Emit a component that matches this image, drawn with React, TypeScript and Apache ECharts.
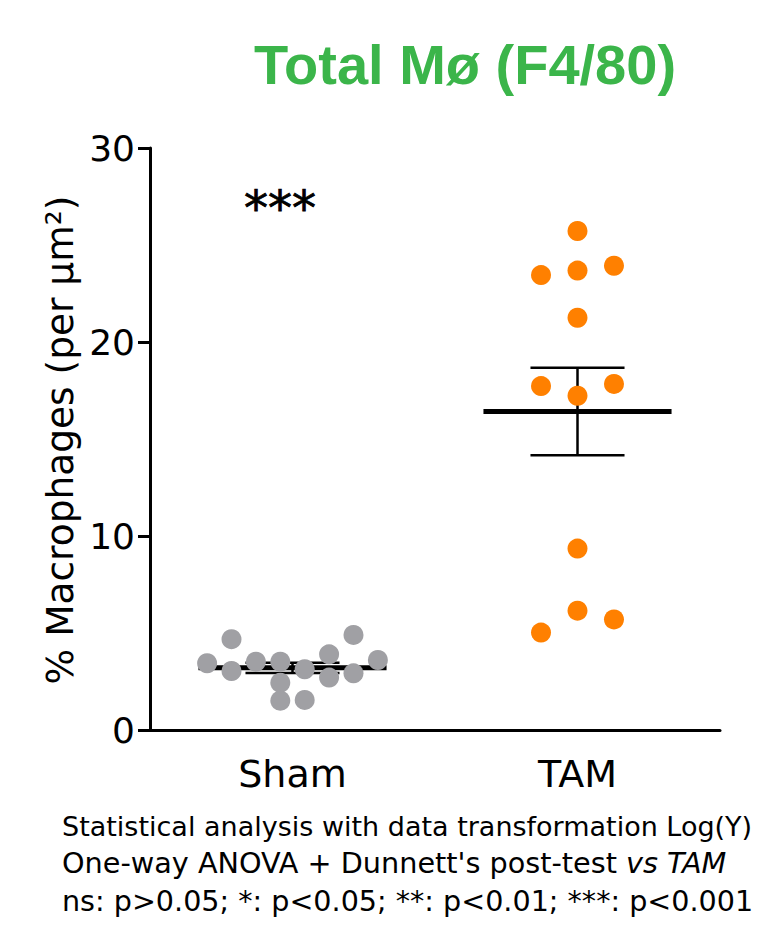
import React, { useEffect, useRef } from "react";
import * as echarts from "echarts";

// ---- data ----
const categories = ["Sham", "TAM"];
const shamValues = [4.68, 4.9, 3.44, 3.04, 3.52, 3.52, 3.13, 3.9, 2.7, 2.92, 3.61, 2.44, 1.51, 1.55];
const shamColumns = [-2.5, 2.5, -3.5, -2.5, -1.5, -0.5, 0.5, 1.5, 1.5, 2.5, 3.5, -0.5, -0.5, 0.5];
const tamValues = [25.72, 23.45, 23.68, 23.93, 21.25, 17.73, 17.84, 17.23, 9.35, 6.15, 5.7, 5.02];
const tamColumns = [0, -1, 0, 1, 0, -1, 1, 0, 0, 0, 1, -1];
const yTicks = [0, 10, 20, 30];
const significance = "***";
const titleText = "Total Mø (F4/80)";
const yTitleMain = "% Macrophages";
const yTitleUnit = "(per µm²)";
const footLines = [
  "Statistical analysis with data transformation Log(Y)",
  "One-way ANOVA + Dunnett's post-test ",
  "ns: p>0.05; *: p<0.05; **: p<0.01; ***: p<0.001",
];
const footItalic = "vs TAM";

// ---- styles ----
const SHAM_STEP = 0.0856;
const TAM_STEP = 0.128;
const FONT = "DejaVu Sans";

function meanSem(v: number[]) {
  const n = v.length;
  const m = v.reduce((a, b) => a + b, 0) / n;
  const sd = Math.sqrt(v.reduce((a, b) => a + (b - m) * (b - m), 0) / (n - 1));
  return [m, sd / Math.sqrt(n)];
}

export default function App() {
  const ref = useRef<HTMLDivElement>(null);
  useEffect(() => {
    document.body.style.margin = "0";
    const chart = echarts.init(ref.current!, null, { renderer: "svg" });
    const shamData = shamValues.map((v, i) => [0.5 + shamColumns[i] * SHAM_STEP, v]);
    const tamData = tamValues.map((v, i) => [1.5 + tamColumns[i] * TAM_STEP, v]);
    const [sm, ss] = meanSem(shamValues);
    const [tm, ts] = meanSem(tamValues);
    const summary = [
      [0.5, sm, ss],
      [1.5, tm, ts],
    ];
    chart.setOption({
      animation: false,
      grid: { left: 150, right: 38, top: 148, bottom: 198, containLabel: false },
      xAxis: [
        {
          type: "category",
          data: categories,
          boundaryGap: true,
          axisLine: { lineStyle: { color: "#000", width: 3 } },
          axisTick: { alignWithLabel: true, length: 12, lineStyle: { color: "#000", width: 3 } },
          axisLabel: { fontSize: 38, color: "#000", fontFamily: FONT, margin: 25 },
        },
        { type: "value", min: 0, max: 2, show: false },
      ],
      yAxis: {
        type: "value",
        min: yTicks[0],
        max: yTicks[yTicks.length - 1],
        interval: 10,
        axisLine: { show: true, lineStyle: { color: "#000", width: 3 } },
        axisTick: { show: true, length: 12, lineStyle: { color: "#000", width: 3 } },
        axisLabel: { fontSize: 36, color: "#000", fontFamily: FONT, margin: 15 },
        splitLine: { show: false },
      },
      series: [
        {
          type: "custom",
          xAxisIndex: 1,
          z: 1,
          data: summary,
          renderItem: (params: any, api: any) => {
            const c = api.value(0);
            const m = api.value(1);
            const s = api.value(2);
            const l = api.coord([c - 0.33, m]);
            const r = api.coord([c + 0.33, m]);
            const t = api.coord([c, m + s]);
            const b = api.coord([c, m - s]);
            const tl = api.coord([c - 0.165, m + s]);
            const tr = api.coord([c + 0.165, m + s]);
            const bl = api.coord([c - 0.165, m - s]);
            const br = api.coord([c + 0.165, m - s]);
            const st = { stroke: "#000", lineWidth: 2.5 };
            return {
              type: "group",
              children: [
                { type: "line", shape: { x1: t[0], y1: t[1], x2: b[0], y2: b[1] }, style: st },
                { type: "line", shape: { x1: tl[0], y1: tl[1], x2: tr[0], y2: tr[1] }, style: st },
                { type: "line", shape: { x1: bl[0], y1: bl[1], x2: br[0], y2: br[1] }, style: st },
                { type: "line", shape: { x1: l[0], y1: l[1], x2: r[0], y2: r[1] }, style: { stroke: "#000", lineWidth: 5 } },
              ],
            };
          },
        },
        {
          type: "scatter",
          xAxisIndex: 1,
          z: 3,
          symbolSize: 20,
          itemStyle: { color: "#a0a0a4", opacity: 1 },
          data: shamData,
        },
        {
          type: "scatter",
          xAxisIndex: 1,
          z: 3,
          symbolSize: 20,
          itemStyle: { color: "#ff8000", opacity: 1 },
          data: tamData,
        },
      ],
      graphic: [
        {
          type: "text",
          x: 465,
          y: 64,
          style: {
            text: titleText,
            fill: "#3bb54a",
            font: "bold 56px 'Liberation Sans', Arial, sans-serif",
            textAlign: "center",
            textVerticalAlign: "middle",
          },
        },
        {
          type: "text",
          x: 280,
          y: 208,
          style: {
            text: significance,
            fill: "#000",
            font: `48px '${FONT}'`,
            textAlign: "center",
            textVerticalAlign: "middle",
            stroke: "#000",
            lineWidth: 0.8,
          },
        },
        {
          type: "text",
          x: 60,
          y: 440,
          rotation: Math.PI / 2,
          style: {
            text: `${yTitleMain} ${yTitleUnit}`,
            fill: "#000",
            font: `37.5px '${FONT}'`,
            textAlign: "center",
            textVerticalAlign: "middle",
          },
        },
        {
          type: "text",
          x: 62,
          y: 826,
          style: { text: footLines[0], fill: "#000", font: `27px '${FONT}'`, textVerticalAlign: "middle" },
        },
        {
          type: "text",
          x: 62,
          y: 863,
          style: {
            text: `{n|${footLines[1]}}{i|${footItalic}}`,
            textVerticalAlign: "middle",
            rich: {
              n: { fontSize: 28.7, fontFamily: FONT, fill: "#000" },
              i: { fontSize: 28.7, fontFamily: FONT, fontStyle: "italic", fill: "#000" },
            },
          },
        },
        {
          type: "text",
          x: 62,
          y: 901,
          style: { text: footLines[2], fill: "#000", font: `28.6px '${FONT}'`, textVerticalAlign: "middle" },
        },
      ],
    });
    return () => chart.dispose();
  }, []);
  return <div ref={ref} style={{ width: 758, height: 928 }} />;
}
